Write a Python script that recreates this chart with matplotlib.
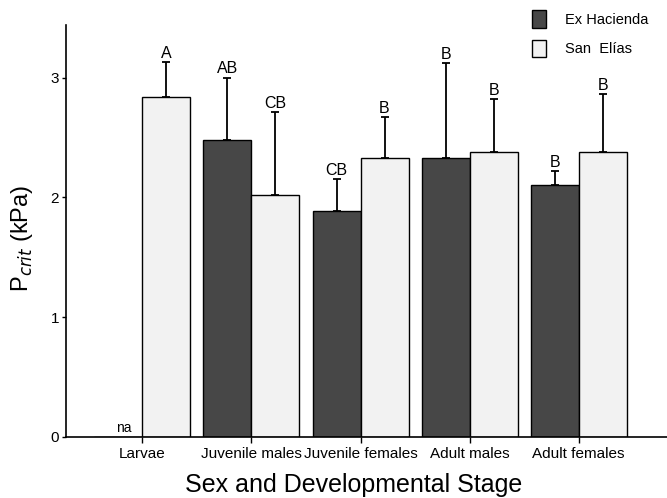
import numpy as np
import matplotlib
matplotlib.use("Agg")
import matplotlib.pyplot as plt
from matplotlib.patches import Patch

# datos
stages = ["Larvae", "Juvenile males", "Juvenile females", "Adult males", "Adult females"]
ex_hacienda = [np.nan, 2.48, 1.89, 2.33, 2.10]
ex_hacienda_err = [np.nan, 0.52, 0.26, 0.79, 0.12]
san_elias = [2.84, 2.02, 2.33, 2.38, 2.38]
san_elias_err = [0.29, 0.69, 0.34, 0.44, 0.48]
letters_eh = ["", "AB", "CB", "B", "B"]
letters_se = ["A", "CB", "B", "B", "B"]

dark = "#474747"
light = "#f2f2f2"

plt.rcParams['font.family'] = ['Liberation Sans', 'DejaVu Sans']

fig = plt.figure(figsize=(6.67, 4.98), dpi=100)
ax = fig.add_axes([0.099, 0.1225, 0.901, 0.8275])

x = np.arange(len(stages))
w = 0.44

eh_vals = np.nan_to_num(ex_hacienda)
ax.bar(x - w / 2, eh_vals, w, color=dark, edgecolor="black", linewidth=1.0, zorder=2)
ax.bar(x + w / 2, san_elias, w, color=light, edgecolor="black", linewidth=1.0, zorder=2)

ax.errorbar(x - w / 2, ex_hacienda, yerr=[np.zeros(len(x)), ex_hacienda_err],
            fmt="none", ecolor="black", elinewidth=1.3, capsize=3, capthick=1.3, zorder=1)
ax.errorbar(x + w / 2, san_elias, yerr=[np.zeros(len(x)), san_elias_err],
            fmt="none", ecolor="black", elinewidth=1.3, capsize=3, capthick=1.3, zorder=1)

# letras de significancia
for i in range(len(x)):
    if letters_eh[i]:
        ax.text(x[i] - w / 2, ex_hacienda[i] + ex_hacienda_err[i] + 0.01, letters_eh[i],
                ha="center", va="bottom", fontsize=11.5)
    ax.text(x[i] + w / 2, san_elias[i] + san_elias_err[i] + 0.01, letters_se[i],
            ha="center", va="bottom", fontsize=11.5)
ax.text(x[0] - 0.17, 0.02, "na", ha="center", va="bottom", fontsize=10)

ax.set_xlim(-0.70, 4.81)
ax.set_ylim(0, 3.44)
ax.set_yticks([0, 1, 2, 3])
ax.set_xticks(x)
ax.set_xticklabels(stages, fontsize=11)
ax.tick_params(axis="y", labelsize=11, length=3, width=1, pad=2)
ax.tick_params(axis="x", length=4, width=1, pad=3)
for s in ["top", "right"]:
    ax.spines[s].set_visible(False)
ax.spines["left"].set_linewidth(1.2)
ax.spines["bottom"].set_linewidth(1.2)

ax.set_xlabel("Sex and Developmental Stage", fontsize=18)
ax.xaxis.set_label_coords(0.478, -0.088)
ax.set_ylabel(r"P$_{crit}$ (kPa)", fontsize=17)
ax.yaxis.set_label_coords(-0.052, 0.483)

handles = [Patch(facecolor=dark, edgecolor="black"),
           Patch(facecolor=light, edgecolor="black")]
fig.legend(handles, ["Ex Hacienda", "San  Elías"], loc="upper left",
           bbox_to_anchor=(0.782, 1.0), frameon=False, fontsize=10.5,
           handlelength=1.0, handleheight=1.5, labelspacing=0.8, handletextpad=1.3,
           borderaxespad=0.3)

fig.savefig("out.png", dpi=100)
